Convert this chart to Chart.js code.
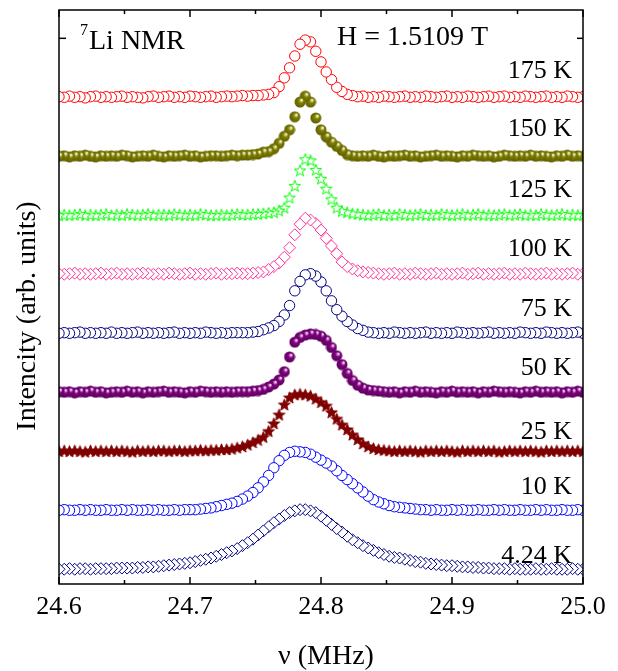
<!DOCTYPE html>
<html>
<head>
<meta charset="utf-8">
<title>7Li NMR spectra</title>
<script src="https://cdn.jsdelivr.net/npm/chart.js@4.4.1/dist/chart.umd.min.js"></script>
<style>
  body { margin: 0; background: #fff; }
  #nmr { display: block; }
</style>
</head>
<body>
<canvas id="nmr" width="618" height="671"></canvas>
<script>
// frequency grid (MHz)
const freq = [
  24.600,24.604,24.608,24.612,24.616,24.620,24.624,24.628,24.632,24.636,
  24.640,24.644,24.648,24.652,24.656,24.660,24.664,24.668,24.672,24.676,
  24.680,24.684,24.688,24.692,24.696,24.700,24.704,24.708,24.712,24.716,
  24.720,24.724,24.728,24.732,24.736,24.740,24.744,24.748,24.752,24.756,
  24.760,24.764,24.768,24.772,24.776,24.780,24.784,24.788,24.792,24.796,
  24.800,24.804,24.808,24.812,24.816,24.820,24.824,24.828,24.832,24.836,
  24.840,24.844,24.848,24.852,24.856,24.860,24.864,24.868,24.872,24.876,
  24.880,24.884,24.888,24.892,24.896,24.900,24.904,24.908,24.912,24.916,
  24.920,24.924,24.928,24.932,24.936,24.940,24.944,24.948,24.952,24.956,
  24.960,24.964,24.968,24.972,24.976,24.980,24.984,24.988,24.992,24.996,
  25.000
];

const temps = ['175 K', '150 K', '125 K', '100 K', '75 K', '50 K', '25 K', '10 K', '4.24 K'];
const offsets = [8, 7, 6, 5, 4, 3, 2, 1, 0];

// normalised line shapes
const s175 = [
  0.01,0,0.02,0,0.01,-0.01,0.01,0.02,0,0.01,
  0,0.01,0.02,0,0.01,0,-0.01,0.01,0.02,0,
  0.01,0.02,0,0.01,0,0.02,0.01,0,0.01,0.02,
  0,0.01,0.02,0.01,0.02,0.03,0.02,0.03,0.03,0.04,
  0.05,0.08,0.18,0.33,0.50,0.70,0.90,0.97,0.94,0.78,
  0.60,0.43,0.30,0.17,0.10,0.05,0.03,0.01,0.02,0,
  0.01,0,0.02,0.01,0,0.01,0.02,0,0.01,0,
  0.02,0.01,0,0.01,0.02,0,0.01,0,0.02,0.01,
  0,0.01,0.02,0,0.01,0.02,0,0.01,0,0.02,
  0.01,0,0.01,0.02,0,0.01,0,0.02,0.01,0,
  0.01
];
const s150 = [
  0,0.01,-0.01,0.01,0,0.02,0,-0.01,0.01,0,
  0.01,0,0.02,0.01,-0.01,0,0.01,0,0.02,0,
  -0.01,0.01,0,0.01,0.02,0,0.01,-0.01,0,0.01,
  0.01,0,0.01,0.02,0.01,0.02,0.02,0.03,0.04,0.07,
  0.08,0.13,0.22,0.34,0.45,0.67,0.92,1.02,0.92,0.65,
  0.45,0.33,0.24,0.17,0.10,0.03,0.01,0,0.01,0,
  0.02,0,-0.01,0.01,0,0.01,0.02,0,0.01,-0.01,
  0,0.01,0.02,0,0.01,0,-0.01,0.01,0,0.02,
  0.01,0,0.01,-0.01,0,0.02,0.01,0,0.01,0,
  0.02,0,0.01,0,-0.01,0.01,0,0.02,0,0.01,
  0
];
const s125 = [
  0,0.01,0,0.01,0.02,0,0.01,0,0.01,0.02,
  0,0.01,0,0.02,0.01,0,0.01,0.02,0,0.01,
  0.01,0,0.02,0.01,0,0.01,0,0.02,0.01,0,
  0,0.01,0,0.01,0.02,0.01,0.01,0.02,0.02,0.03,
  0.04,0.05,0.08,0.13,0.30,0.50,0.76,0.95,0.93,0.77,
  0.62,0.45,0.27,0.13,0.07,0.05,0.03,0.02,0.01,0,
  0.01,0.02,0,0.01,0,0.02,0.01,0,0.01,0.02,
  0,0.01,0,0.02,0.01,0,0.01,0.02,0,0.01,
  0.02,0,0.01,0,0.01,0.02,0,0.01,0.02,0,
  0.01,0,0.02,0.01,0,0.01,0.02,0,0.01,0,
  0.01
];
const s100 = [
  0.01,0,0.01,0.02,0,0.01,0,0.01,0.02,0,
  0.01,0.02,0,0.01,0,0.01,0.02,0.01,0,0.01,
  0,0.02,0.01,0,0.01,0.02,0,0.01,0,0.01,
  0.02,0,0.01,0.01,0.02,0.01,0.01,0.02,0.03,0.04,
  0.08,0.13,0.19,0.29,0.45,0.67,0.85,0.95,0.92,0.86,
  0.75,0.61,0.48,0.35,0.21,0.13,0.09,0.06,0.04,0.03,
  0.02,0.01,0,0.01,0.02,0,0.01,0,0.02,0.01,
  0,0.01,0.02,0,0.01,0,0.01,0.02,0,0.01,
  0.02,0,0.01,0,0.01,0.02,0,0.01,0,0.02,
  0.01,0,0.01,0.02,0,0.01,0,0.01,0.02,0,
  0.01
];
const s75 = [
  0,0.01,0,0.01,0.02,0,0.01,0,0.01,0,
  0.02,0,0.01,0,0.01,0.02,0,0.01,0,0.01,
  0,0.01,0.02,0,0.01,0,0.01,0,0.02,0.01,
  0,0.01,0,0.01,0.01,0.01,0.01,0.02,0.03,0.06,
  0.09,0.13,0.20,0.31,0.47,0.72,0.88,0.99,1.01,0.97,
  0.87,0.72,0.55,0.40,0.29,0.20,0.14,0.08,0.05,0.02,
  0.01,0,0.01,0,0.02,0.01,0,0.01,0,0.01,
  0.02,0,0.01,0,0.01,0,0.02,0.01,0,0.01,
  0,0.01,0.02,0,0.01,0,0.01,0,0.02,0.01,
  0,0.01,0,0.02,0.01,0,0.01,0,0.01,0.02,
  0
];
const s50 = [
  0.01,0,0.01,-0.01,0.01,0,0.02,0,0.01,-0.01,
  0,0.01,0,0.02,0,0.01,-0.01,0.01,0,0.01,
  0.02,0,0.01,0,-0.01,0.01,0,0.02,0.01,0,
  0.01,0,0.01,0,0.01,0.01,0.01,0.02,0.03,0.05,
  0.09,0.14,0.21,0.35,0.60,0.85,0.93,0.97,0.99,0.98,
  0.95,0.88,0.76,0.62,0.47,0.32,0.20,0.12,0.07,0.04,
  0.03,0.02,0.01,0,0.01,-0.01,0.01,0,0.02,0,
  0.01,0,-0.01,0.01,0,0.02,0,0.01,0,0.01,
  -0.01,0.01,0,0.02,0.01,0,0.01,0,-0.01,0.01,
  0,0.02,0,0.01,0,0.01,-0.01,0.01,0,0.02,
  0
];
const s25 = [
  0,0.01,0,0.01,0,-0.01,0.01,0,0.01,0,
  0.01,0,0.01,0,-0.01,0.01,0,0.01,0,0.01,
  0.01,0,0.01,0.01,0,0.01,0.01,0.02,0.01,0.02,
  0.02,0.03,0.03,0.04,0.06,0.08,0.11,0.15,0.19,0.24,
  0.34,0.47,0.62,0.79,0.91,0.96,0.97,0.96,0.94,0.89,
  0.83,0.77,0.66,0.55,0.45,0.37,0.28,0.20,0.13,0.08,
  0.05,0.03,0.02,0.01,0,0.01,0,0.01,0,-0.01,
  0.01,0,0.01,0,0.01,0,-0.01,0.01,0,0.01,
  0,0.01,0,0.01,-0.01,0,0.01,0,0.01,0,
  0.01,0,-0.01,0.01,0,0.01,0,0.01,0,0.01,
  0
];
const s10 = [
  0,0.01,0,0,0.01,0,0.01,0,0,0.01,
  0,0,0.01,0,0.01,0,0,0.01,0,0.01,
  0,0,0.01,0,0.01,0.01,0.01,0.02,0.03,0.04,
  0.06,0.08,0.10,0.12,0.15,0.19,0.24,0.30,0.38,0.48,
  0.59,0.72,0.84,0.93,0.98,1.00,0.99,0.98,0.95,0.90,
  0.85,0.80,0.75,0.67,0.59,0.52,0.45,0.38,0.31,0.24,
  0.18,0.14,0.11,0.08,0.06,0.05,0.04,0.03,0.02,0.01,
  0.01,0,0.01,0,0,0.01,0,0.01,0,0,
  0.01,0,0,0.01,0,0.01,0,0,0.01,0,
  0,0.01,0,0.01,0,0,0.01,0,0,0.01,
  0
];
const s4 = [
  0,0,0.01,0,0.01,0.01,0,0.01,0.01,0.01,
  0.01,0.02,0.02,0.02,0.02,0.03,0.03,0.04,0.04,0.05,
  0.06,0.07,0.08,0.09,0.10,0.11,0.13,0.15,0.17,0.19,
  0.22,0.25,0.28,0.31,0.35,0.40,0.45,0.51,0.58,0.65,
  0.72,0.79,0.85,0.91,0.96,0.99,1.01,1.01,0.99,0.96,
  0.90,0.83,0.76,0.69,0.63,0.56,0.50,0.45,0.40,0.36,
  0.32,0.28,0.25,0.22,0.20,0.19,0.17,0.15,0.13,0.12,
  0.10,0.09,0.08,0.07,0.06,0.06,0.05,0.04,0.04,0.03,
  0.03,0.02,0.02,0.01,0.01,0.01,0,0.01,0,0,
  0,0.01,0,0,0.01,0,0,0,0.01,0,
  0
];
const shapes = [s175, s150, s125, s100, s75, s50, s25, s10, s4];

// axis ticks
const xMajor = [24.6, 24.7, 24.8, 24.9, 25.0];
const xMinor = [24.65, 24.75, 24.85, 24.95];
const yMajor = [9];

const SERIF = '"Liberation Serif", "Times New Roman", serif';

// little marker images
function sphere(base, light, dark, d) {
  const c = document.createElement('canvas');
  c.width = d; c.height = d;
  const g = c.getContext('2d');
  const r = d / 2;
  const grad = g.createRadialGradient(r * 1.3, r * 0.65, 0.5, r, r, r);
  grad.addColorStop(0, light);
  grad.addColorStop(0.35, base);
  grad.addColorStop(1, dark);
  g.fillStyle = grad;
  g.beginPath(); g.arc(r, r, r - 0.5, 0, Math.PI * 2); g.fill();
  return c;
}
function star(fill, stroke, r) {
  const size = Math.ceil(r * 2 + 2);
  const c = document.createElement('canvas');
  c.width = size; c.height = size;
  const g = c.getContext('2d');
  const cx = size / 2, cy = size / 2 + 0.5;
  g.beginPath();
  for (let k = 0; k < 10; k++) {
    const rr = k % 2 ? r * 0.42 : r;
    const a = -Math.PI / 2 + k * Math.PI / 5;
    g.lineTo(cx + rr * Math.cos(a), cy + rr * Math.sin(a));
  }
  g.closePath();
  g.fillStyle = fill; g.fill();
  g.strokeStyle = stroke; g.lineWidth = 1; g.stroke();
  return c;
}

const styles = [
  { pointStyle: 'circle', radius: 5.2, border: '#ff0000', bg: '#ffffff' },
  { pointStyle: sphere('#808000', '#f4f4d8', '#5a5a00', 12) },
  { pointStyle: star('#ffffff', '#00ff00', 6) },
  { pointStyle: 'rectRot', radius: 6, border: '#ff3399', bg: '#ffffff' },
  { pointStyle: 'circle', radius: 5.2, border: '#000080', bg: '#ffffff' },
  { pointStyle: sphere('#800080', '#f4d8f4', '#580058', 12) },
  { pointStyle: star('#800000', '#800000', 6.2) },
  { pointStyle: 'circle', radius: 5.2, border: '#0000ff', bg: '#ffffff' },
  { pointStyle: 'rectRot', radius: 6, border: '#000080', bg: '#ffffff' }
];

const datasets = shapes.map((vals, i) => {
  const st = styles[i];
  // swept from high to low frequency
  const pts = freq.map((f, k) => ({ x: f, y: offsets[i] + vals[k] })).reverse();
  return {
    label: temps[i],
    data: pts,
    showLine: false,
    pointStyle: st.pointStyle,
    pointRadius: st.radius || 6,
    pointBorderWidth: 1,
    pointBorderColor: st.border || 'rgba(0,0,0,0)',
    pointBackgroundColor: st.bg || 'rgba(0,0,0,0)'
  };
});

// label lift above each baseline (px)
const labelLift = [19, 20, 18, 18, 17, 17, 12, 16, 6];

const decor = {
  id: 'decor',
  afterDraw(chart) {
    const { ctx, chartArea: a, scales: { x, y } } = chart;
    ctx.save();
    ctx.strokeStyle = '#000';
    ctx.lineWidth = 1.5;
    ctx.strokeRect(a.left, a.top, a.right - a.left, a.bottom - a.top);
    const seg = (x1, y1, x2, y2) => { ctx.beginPath(); ctx.moveTo(x1, y1); ctx.lineTo(x2, y2); ctx.stroke(); };
    xMajor.forEach(v => {
      const px = x.getPixelForValue(v);
      seg(px, a.bottom, px, a.bottom - 7);
      seg(px, a.top, px, a.top + 7);
    });
    xMinor.forEach(v => {
      const px = x.getPixelForValue(v);
      seg(px, a.bottom, px, a.bottom - 4);
      seg(px, a.top, px, a.top + 4);
    });
    yMajor.forEach(v => {
      const py = y.getPixelForValue(v);
      seg(a.left, py, a.left + 7, py);
      seg(a.right, py, a.right - 6, py);
    });

    ctx.fillStyle = '#000';
    ctx.textBaseline = 'alphabetic';
    ctx.textAlign = 'right';
    ctx.font = '26px ' + SERIF;
    temps.forEach((t, i) => {
      ctx.fillText(t, a.right - 11, y.getPixelForValue(offsets[i]) - labelLift[i]);
    });

    ctx.textAlign = 'left';
    ctx.font = '16px ' + SERIF;
    ctx.fillText('7', a.left + 21, a.top + 25);
    ctx.font = '28px ' + SERIF;
    ctx.fillText('Li NMR', a.left + 30, a.top + 39);
    ctx.fillText('H = 1.5109 T', a.left + 278, a.top + 35);

    // axis titles
    ctx.font = '28px ' + SERIF;
    ctx.textAlign = 'center';
    ctx.textBaseline = 'middle';
    ctx.fillText('\u03bd (MHz)', (a.left + a.right) / 2 + 5, 657);
    ctx.translate(28, 316);
    ctx.rotate(-Math.PI / 2);
    ctx.fillText('Intencity (arb. units)', 0, 0);
    ctx.restore();
  }
};

new Chart(document.getElementById('nmr'), {
  type: 'scatter',
  data: { datasets },
  plugins: [decor],
  options: {
    responsive: false,
    animation: false,
    layout: { padding: { top: 10, right: 35, left: 0, bottom: 0 } },
    plugins: { legend: { display: false }, tooltip: { enabled: false } },
    scales: {
      x: {
        type: 'linear',
        min: 24.6,
        max: 25.0,
        afterFit: s => { s.height = 87; },
        afterBuildTicks: s => { s.ticks = xMajor.map(v => ({ value: v })); },
        grid: { display: false, drawTicks: false },
        border: { display: false },
        ticks: {
          padding: 8,
          color: '#000',
          font: { family: SERIF, size: 26 },
          callback: v => Number(v).toFixed(1)
        }
      },
      y: {
        type: 'linear',
        min: -0.25,
        max: 9.48,
        afterFit: s => { s.width = 59; },
        grid: { display: false, drawTicks: false },
        border: { display: false },
        ticks: { display: false }
      }
    }
  }
});
</script>
</body>
</html>
